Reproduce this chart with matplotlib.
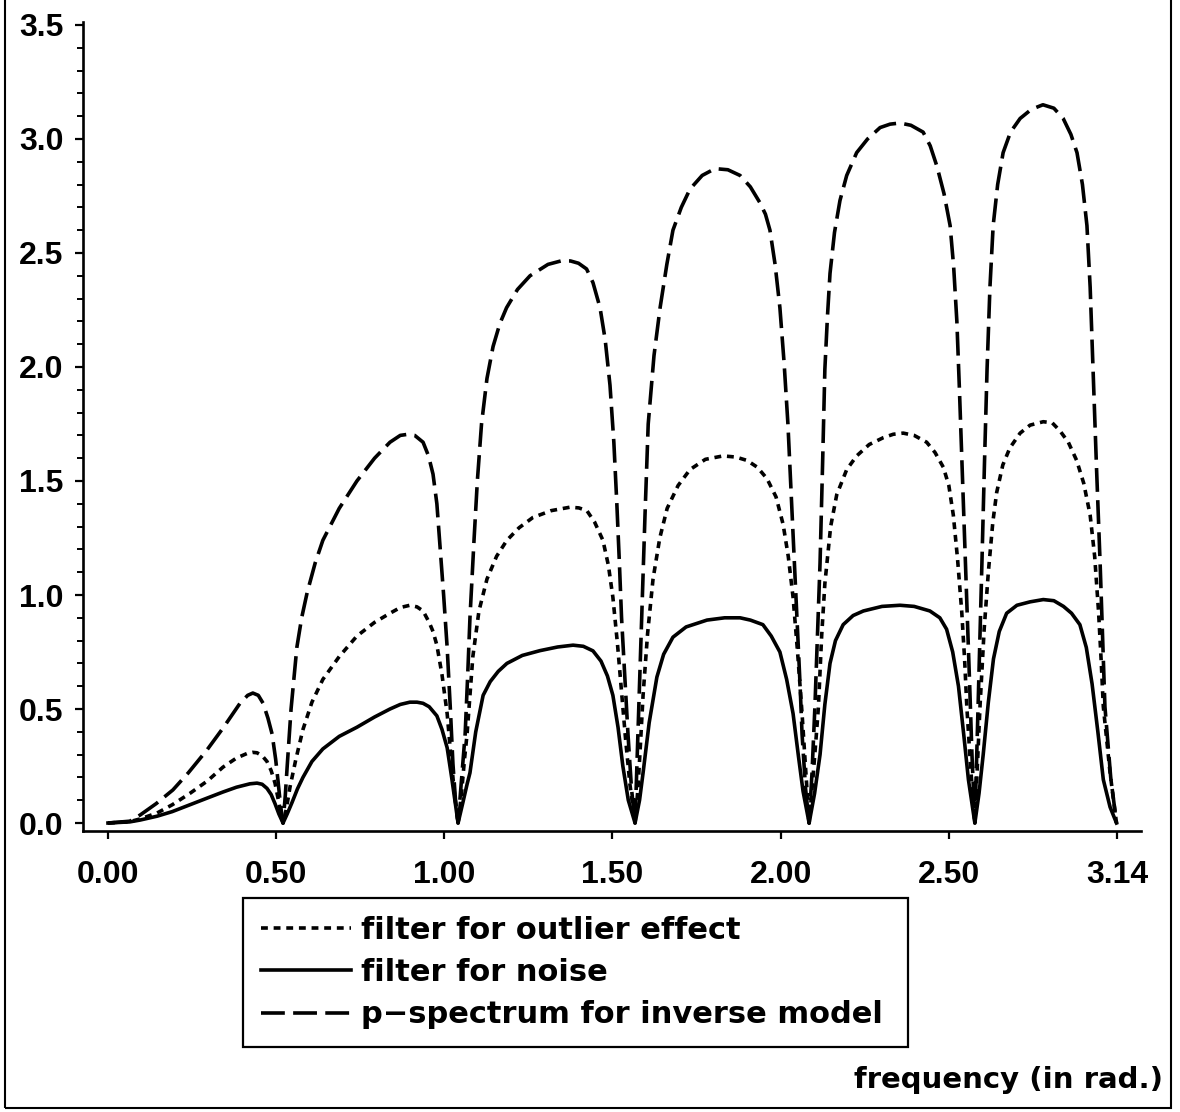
import numpy as np
import matplotlib
matplotlib.use("Agg")
import matplotlib.pyplot as plt
from matplotlib.patches import Rectangle

plt.rcParams['font.family'] = ['Liberation Sans', 'DejaVu Sans']
plt.rcParams['font.weight'] = 'bold'

# values (frequency in rad., curve height)
outlier_x = [0.0, 0.068, 0.100, 0.153, 0.20, 0.255, 0.31, 0.358, 0.40, 0.433, 0.45, 0.464, 0.48, 0.495, 0.508, 0.520, 0.532, 0.540, 0.545,
             0.555, 0.567, 0.585, 0.607, 0.635, 0.669, 0.72, 0.775, 0.83, 0.878, 0.91, 0.940, 0.962, 0.981, 1.00, 1.012, 1.024, 1.040, 1.056, 1.066, 1.078, 1.090,
             1.100, 1.110, 1.118, 1.127, 1.136, 1.155, 1.180, 1.21, 1.242, 1.28, 1.323, 1.38, 1.438, 1.466, 1.491, 1.515, 1.541, 1.558, 1.572, 1.586, 1.600, 1.612, 1.625, 1.641,
             1.650, 1.658, 1.666, 1.680, 1.697, 1.718, 1.741, 1.775, 1.812, 1.86, 1.915, 1.955, 1.990, 2.022, 2.052, 2.08, 2.102, 2.118, 2.133, 2.147, 2.161, 2.172, 2.183,
             2.195, 2.204, 2.212, 2.222, 2.232, 2.25, 2.269, 2.30, 2.331, 2.37, 2.414, 2.445, 2.476, 2.51, 2.549, 2.575, 2.601, 2.618, 2.632, 2.645, 2.658, 2.667, 2.674, 2.686, 2.699,
             2.707, 2.715, 2.728, 2.741, 2.755, 2.767, 2.786, 2.808, 2.84, 2.871, 2.912, 2.94, 2.964, 2.99, 3.016, 3.038, 3.058, 3.072, 3.084, 3.092, 3.099, 3.12, 3.14]
outlier_y = [0.0, 0.006, 0.018, 0.044, 0.08, 0.13, 0.185, 0.245, 0.285, 0.305, 0.31, 0.308, 0.295, 0.27, 0.23, 0.175, 0.09, 0.03, 0.0,
             0.06, 0.16, 0.28, 0.41, 0.53, 0.63, 0.73, 0.82, 0.88, 0.92, 0.945, 0.955, 0.948, 0.93, 0.88, 0.84, 0.78, 0.65, 0.48, 0.32, 0.14, 0.0,
             0.12, 0.28, 0.39, 0.56, 0.73, 0.93, 1.07, 1.17, 1.24, 1.295, 1.34, 1.37, 1.385, 1.382, 1.37, 1.32, 1.24, 1.13, 0.99, 0.79, 0.56, 0.36, 0.17, 0.0,
             0.15, 0.35, 0.56, 0.83, 1.07, 1.25, 1.38, 1.48, 1.55, 1.595, 1.61, 1.605, 1.59, 1.56, 1.51, 1.43, 1.31, 1.17, 0.99, 0.75, 0.48, 0.24, 0.0,
             0.20, 0.36, 0.51, 0.82, 1.05, 1.30, 1.44, 1.55, 1.61, 1.66, 1.69, 1.705, 1.71, 1.70, 1.67, 1.625, 1.56, 1.48, 1.35, 1.16, 0.93, 0.72, 0.51, 0.24, 0.0,
             0.25, 0.51, 0.85, 1.10, 1.32, 1.45, 1.57, 1.645, 1.71, 1.745, 1.76, 1.755, 1.72, 1.67, 1.59, 1.49, 1.35, 1.17, 0.93, 0.72, 0.51, 0.22, 0.0]

noise_x = [0.0, 0.068, 0.100, 0.153, 0.20, 0.255, 0.31, 0.358, 0.40, 0.442, 0.464, 0.48, 0.495, 0.508, 0.520, 0.532, 0.545,
           0.558, 0.573, 0.590, 0.607, 0.635, 0.669, 0.72, 0.775, 0.83, 0.878, 0.910, 0.940, 0.962, 0.981, 1.00, 1.024, 1.040, 1.056, 1.070, 1.080, 1.090,
           1.105, 1.118, 1.127, 1.145, 1.168, 1.19, 1.215, 1.242, 1.29, 1.345, 1.40, 1.448, 1.48, 1.510, 1.535, 1.555, 1.572, 1.588, 1.603, 1.620, 1.641,
           1.655, 1.666, 1.685, 1.709, 1.73, 1.759, 1.80, 1.865, 1.92, 1.968, 2.00, 2.039, 2.065, 2.092, 2.113, 2.133, 2.15, 2.164, 2.183,
           2.200, 2.217, 2.232, 2.248, 2.265, 2.289, 2.32, 2.352, 2.41, 2.466, 2.51, 2.559, 2.59, 2.611, 2.630, 2.648, 2.665, 2.679, 2.699,
           2.712, 2.725, 2.741, 2.757, 2.775, 2.798, 2.83, 2.871, 2.912, 2.945, 2.975, 3.00, 3.026, 3.046, 3.064, 3.082, 3.099, 3.12, 3.14]
noise_y = [0.0, 0.005, 0.013, 0.03, 0.05, 0.08, 0.11, 0.136, 0.157, 0.172, 0.175, 0.17, 0.152, 0.125, 0.085, 0.04, 0.0,
           0.04, 0.09, 0.15, 0.20, 0.27, 0.325, 0.38, 0.42, 0.465, 0.50, 0.52, 0.53, 0.53, 0.525, 0.51, 0.47, 0.41, 0.33, 0.20, 0.10, 0.0,
           0.09, 0.17, 0.22, 0.40, 0.56, 0.62, 0.665, 0.70, 0.735, 0.756, 0.772, 0.78, 0.775, 0.755, 0.71, 0.645, 0.56, 0.42, 0.25, 0.10, 0.0,
           0.10, 0.22, 0.44, 0.64, 0.74, 0.815, 0.86, 0.89, 0.90, 0.90, 0.89, 0.87, 0.82, 0.75, 0.63, 0.48, 0.29, 0.14, 0.0,
           0.13, 0.30, 0.52, 0.70, 0.80, 0.87, 0.91, 0.93, 0.95, 0.955, 0.95, 0.93, 0.90, 0.85, 0.75, 0.60, 0.38, 0.19, 0.0,
           0.13, 0.30, 0.53, 0.72, 0.84, 0.92, 0.955, 0.97, 0.98, 0.975, 0.95, 0.92, 0.87, 0.77, 0.61, 0.40, 0.19, 0.07, 0.0]

pspec_x = [0.0, 0.068, 0.100, 0.15, 0.202, 0.25, 0.308, 0.36, 0.411, 0.435, 0.451, 0.468, 0.483, 0.498, 0.511, 0.522, 0.529, 0.537, 0.545,
           0.552, 0.558, 0.570, 0.588, 0.603, 0.620, 0.645, 0.669, 0.72, 0.775, 0.83, 0.878, 0.91, 0.935, 0.955, 0.981, 0.998, 1.012, 1.024, 1.034, 1.045, 1.056, 1.066, 1.074, 1.082, 1.090,
           1.100, 1.112, 1.120, 1.127, 1.140, 1.150, 1.163, 1.180, 1.199, 1.22, 1.241, 1.275, 1.314, 1.37, 1.41, 1.44, 1.465, 1.490, 1.51, 1.532, 1.548, 1.563, 1.575, 1.584, 1.592, 1.599, 1.610, 1.619, 1.630, 1.641,
           1.650, 1.656, 1.662, 1.672, 1.682, 1.70, 1.719, 1.74, 1.759, 1.785, 1.812, 1.85, 1.890, 1.93, 1.968, 2.00, 2.030, 2.047, 2.061, 2.077, 2.092, 2.105, 2.117, 2.132, 2.145, 2.155, 2.161, 2.172, 2.183,
           2.192, 2.201, 2.209, 2.217, 2.225, 2.232, 2.240, 2.248, 2.262, 2.279, 2.30, 2.331, 2.365, 2.404, 2.435, 2.466, 2.50, 2.538, 2.56, 2.581, 2.603, 2.622, 2.633, 2.643, 2.651, 2.659, 2.667, 2.675, 2.683, 2.690, 2.699,
           2.704, 2.709, 2.715, 2.721, 2.729, 2.737, 2.746, 2.756, 2.77, 2.787, 2.81, 2.840, 2.875, 2.911, 2.945, 2.974, 2.998, 3.017, 3.034, 3.048, 3.058, 3.067, 3.078, 3.089, 3.097, 3.104, 3.122, 3.14]
pspec_y = [0.0, 0.008, 0.035, 0.085, 0.145, 0.22, 0.32, 0.42, 0.525, 0.56, 0.57, 0.56, 0.525, 0.46, 0.39, 0.28, 0.19, 0.08, 0.0,
           0.12, 0.25, 0.50, 0.77, 0.90, 1.01, 1.14, 1.24, 1.38, 1.50, 1.60, 1.67, 1.70, 1.705, 1.70, 1.67, 1.61, 1.53, 1.40, 1.21, 1.00, 0.77, 0.50, 0.26, 0.10, 0.0,
           0.18, 0.39, 0.65, 0.90, 1.25, 1.50, 1.75, 1.95, 2.09, 2.19, 2.26, 2.34, 2.40, 2.45, 2.465, 2.465, 2.455, 2.43, 2.37, 2.26, 2.12, 1.92, 1.67, 1.41, 1.15, 0.90, 0.62, 0.39, 0.15, 0.0,
           0.39, 0.65, 0.90, 1.35, 1.75, 2.05, 2.26, 2.45, 2.60, 2.70, 2.78, 2.84, 2.87, 2.865, 2.84, 2.79, 2.72, 2.67, 2.60, 2.45, 2.26, 2.02, 1.75, 1.30, 0.90, 0.60, 0.39, 0.15, 0.0,
           0.22, 0.51, 0.82, 1.14, 1.58, 1.99, 2.22, 2.41, 2.59, 2.73, 2.84, 2.94, 3.00, 3.05, 3.065, 3.07, 3.06, 3.03, 2.97, 2.88, 2.76, 2.62, 2.44, 2.20, 1.90, 1.57, 1.25, 0.93, 0.60, 0.30, 0.0,
           0.25, 0.51, 0.82, 1.14, 1.58, 1.99, 2.35, 2.62, 2.80, 2.94, 3.03, 3.09, 3.13, 3.15, 3.135, 3.09, 3.02, 2.94, 2.80, 2.62, 2.35, 1.99, 1.55, 1.14, 0.80, 0.51, 0.20, 0.0]

xtick_labels = ['0.00', '0.50', '1.00', '1.50', '2.00', '2.50', '3.14']
labels = ['filter for outlier effect', 'filter for noise', 'p\u2212spectrum for inverse model']

W, H = 1180, 1112
fig = plt.figure(figsize=(W / 100, H / 100), dpi=100)
ax = fig.add_axes([83 / W, 1 - 831 / H, (1141 - 83) / W, (831 - 22) / H])

lw = 2.6
l1, = ax.plot(outlier_x, outlier_y, color='black', lw=lw, dashes=(1.9, 1.6))
l2, = ax.plot(noise_x, noise_y, color='black', lw=lw)
l3, = ax.plot(pspec_x, pspec_y, color='black', lw=lw, dashes=(6.6, 2.3))

ax.set_xlim(-0.0778, 3.2163)
ax.set_ylim(-0.035, 3.513)

ax.set_xticks(np.linspace(0, np.pi, 7))
ax.set_xticklabels(xtick_labels)
ax.set_yticks(np.arange(0, 3.51, 0.5))
ax.set_yticklabels([f'{v:.1f}' for v in np.arange(0, 3.51, 0.5)])
ax.set_yticks(np.arange(0, 3.51, 0.1), minor=True)

ax.tick_params(axis='both', which='major', direction='out', length=6, width=1.6,
               labelsize=23, color='black')
ax.tick_params(axis='x', pad=15)
ax.tick_params(axis='y', pad=8)
ax.tick_params(axis='y', which='minor', direction='out', length=4, width=1.4)

for s in ['top', 'right']:
    ax.spines[s].set_visible(False)
for s in ['left', 'bottom']:
    ax.spines[s].set_linewidth(1.9)

leg = fig.legend([l1, l2, l3], labels,
                 loc='upper left',
                 bbox_to_anchor=(243 / W, 1 - 1043 / H, (908 - 243) / W, (1043 - 898) / H),
                 mode='expand', frameon=True, fancybox=False,
                 prop={'family': ['DejaVu Sans'], 'weight': 'bold', 'size': 22},
                 edgecolor='black', framealpha=1, handlelength=2.95, handletextpad=0.33,
                 labelspacing=0.43, borderpad=0.59, borderaxespad=0)
leg.get_frame().set_linewidth(1.6)

fig.text(1163 / W, 1 - 1080 / H, 'frequency (in rad.)', ha='right', va='center',
         fontsize=21, fontweight='bold', family=['DejaVu Sans'])

# scan border
fig.add_artist(Rectangle((5 / W, 1 - 1108 / H), (1171 - 5) / W, 1.1,
                         transform=fig.transFigure, fill=False, lw=1.5,
                         edgecolor='black'))

fig.savefig('out.png', dpi=100)
